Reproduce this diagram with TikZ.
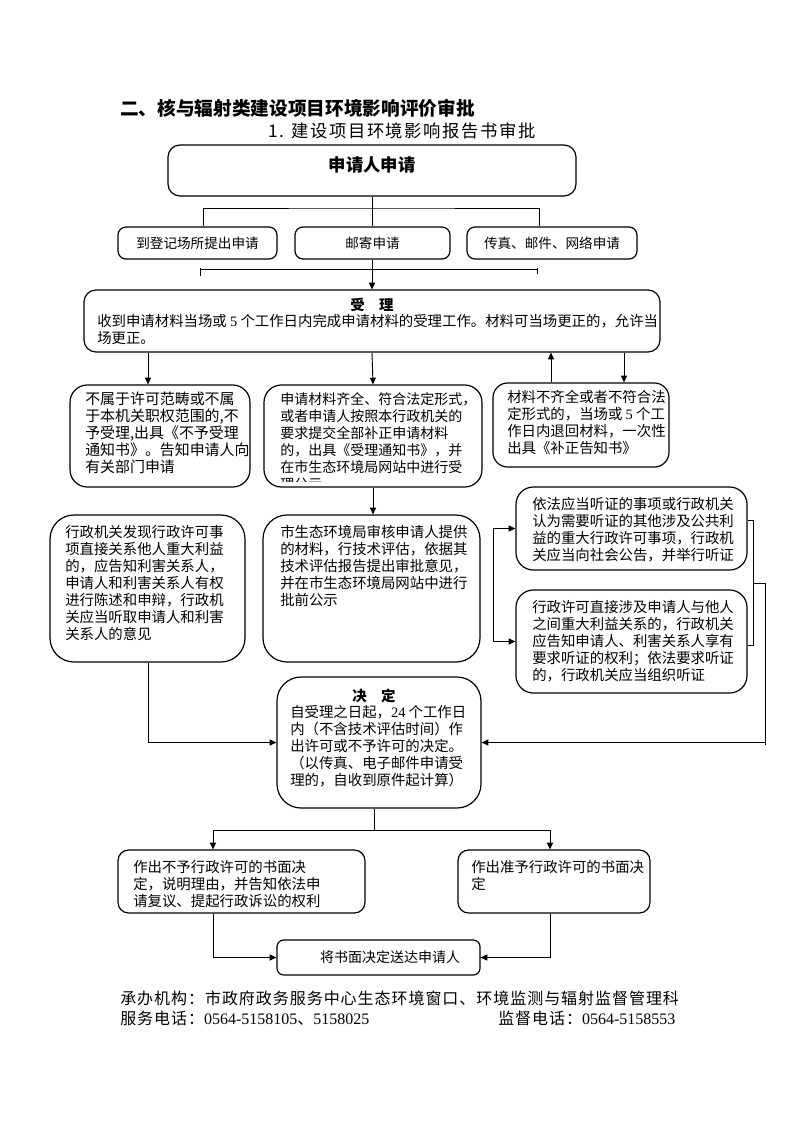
\documentclass[tikz,border=0pt]{standalone}
\usepackage{fontspec}
\setmainfont{Noto Sans CJK SC}
\newfontfamily\digfont{Liberation Serif}
\usetikzlibrary{arrows.meta,fit}
\begin{document}
\begin{tikzpicture}[x=0.75pt,y=-0.75pt,
  box/.style={draw, line width=0.9pt, inner sep=0pt, rounded corners=#1},
  box/.default=8pt,
  txt/.style={anchor=north west, inner sep=0pt, align=left, font=\fontsize{10.8pt}{12.75pt}\selectfont},
  ctxt/.style={inner sep=0pt, font=\fontsize{10.2pt}{12.75pt}\selectfont},
  hd/.style={inner sep=0pt, font=\fontsize{10.8pt}{12.75pt}\selectfont\bfseries},
  foot/.style={anchor=west, inner sep=0pt, font=\fontsize{12pt}{14pt}\selectfont\addfontfeature{LetterSpace=6}},
  ln/.style={line width=0.7pt},
  arr/.style={ln, -{Triangle[length=5pt,width=4.5pt]}},
]
\useasboundingbox (0,0) rectangle (793,1122);
% titles
\node[anchor=west, inner sep=0pt, font=\fontsize{14pt}{16pt}\selectfont\bfseries] (title) at (120,108) {二、核与辐射类建设项目环境影响评价审批};
\node[anchor=west, inner sep=0pt, font=\fontsize{13pt}{16pt}\selectfont\addfontfeature{LetterSpace=9}] (sub) at (268,131) {1. 建设项目环境影响报告书审批};
% coordinates
\coordinate (j1) at (372,208);
\coordinate (cx203) at (203,0);
\coordinate (cx539) at (539,0);
\coordinate (tl) at (200,269);
\coordinate (tr) at (537,269);
\coordinate (cx148) at (148,0);
\coordinate (cx551) at (551,0);
\coordinate (cx624) at (624,0);
\coordinate (cx493) at (493,0);
\coordinate (cx753) at (753,0);
\coordinate (cx765) at (765,0);
\coordinate (cy520) at (0,520);
\coordinate (cy645) at (0,645);
\coordinate (cy583) at (0,583);
\coordinate (j2) at (374,830);
\coordinate (cx213) at (213,0);
\coordinate (cx550) at (550,0);
% boxes
\node[box=9pt, fit={(168,145)(576,196)}] (apply) {};
\node[inner sep=0pt, font=\fontsize{13pt}{15pt}\selectfont\bfseries] at (372,165) {申请人申请};
\node[box=6pt, fit={(118,227)(277,259)}] (m1) {};
\node[ctxt] at (m1.center) {到登记场所提出申请};
\node[box=6pt, fit={(295,227)(450,259)}] (m2) {};
\node[ctxt] at (m2.center) {邮寄申请};
\node[box=6pt, fit={(467,227)(637,259)}] (m3) {};
\node[ctxt] at (m3.center) {传真、邮件、网络申请};
\node[box=9pt, fit={(84,290)(660,352)}] (shouli) {};
\node[hd] at (372,305) {受\quad 理};
\node[txt] at (97,314) {收到申请材料当场或 {\digfont 5} 个工作日内完成申请材料的受理工作。材料可当场更正的，允许当\\场更正。};
\node[box=13pt, fit={(70,385)(250,487)}] (bx1) {};
\node[txt, font=\fontsize{11.2pt}{12.75pt}\selectfont] at (85,392) {不属于许可范畴或不属\\于本机关职权范围的,不\\予受理,出具《不予受理\\通知书》。告知申请人向\\有关部门申请};
\node[box=13pt, fit={(264,385)(482,487)}] (bx2) {};
\begin{scope}
\clip (264,386) rectangle (482,481);
\node[txt, font=\fontsize{10.5pt}{12.75pt}\selectfont] at (280,392) {申请材料齐全、符合法定形式，\\或者申请人按照本行政机关的\\要求提交全部补正申请材料\\的，出具《受理通知书》，并\\在市生态环境局网站中进行受\\理公示};
\end{scope}
\node[box=11pt, fit={(493,383)(669,467)}] (bx3) {};
\node[txt] at (507,390) {材料不齐全或者不符合法\\定形式的，当场或 {\digfont 5} 个工\\作日内退回材料，一次性\\出具《补正告知书》};
\node[box=18pt, fit={(50,515)(245,662)}] (bx4) {};
\node[txt] at (65,525) {行政机关发现行政许可事\\项直接关系他人重大利益\\的，应告知利害关系人，\\申请人和利害关系人有权\\进行陈述和申辩，行政机\\关应当听取申请人和利害\\关系人的意见};
\node[box=18pt, fit={(263,515)(480,662)}] (bx5) {};
\node[txt] at (280,525) {市生态环境局审核申请人提供\\的材料，行技术评估，依据其\\技术评估报告提出审批意见，\\并在市生态环境局网站中进行\\批前公示};
\node[box=13pt, fit={(516,487)(747,570)}] (bx6) {};
\node[txt] at (532,497) {依法应当听证的事项或行政机关\\认为需要听证的其他涉及公共利\\益的重大行政许可事项，行政机\\关应当向社会公告，并举行听证};
\node[box=13pt, fit={(516,590)(747,693)}] (bx7) {};
\node[txt] at (532,600) {行政许可直接涉及申请人与他人\\之间重大利益关系的，行政机关\\应告知申请人、利害关系人享有\\要求听证的权利；依法要求听证\\的，行政机关应当组织听证};
\node[box=18pt, fit={(277,677)(481,808)}] (jd) {};
\node[hd] at (374,696) {决\quad 定};
\node[txt] at (290,705) {自受理之日起，{\digfont 24} 个工作日\\内（不含技术评估时间）作\\出许可或不予许可的决定。\\（以传真、电子邮件申请受\\理的，自收到原件起计算）};
\node[box=8pt, fit={(118,850)(365,913)}] (bn) {};
\node[txt] at (133,860) {作出不予行政许可的书面决\\定，说明理由，并告知依法申\\请复议、提起行政诉讼的权利};
\node[box=8pt, fit={(458,850)(650,913)}] (by) {};
\node[txt] at (471,860) {作出准予行政许可的书面决\\定};
\node[box=5pt, fit={(277,940)(480,975)}] (sd) {};
\node[ctxt, font=\fontsize{10.5pt}{12.75pt}\selectfont] at (390,957) {将书面决定送达申请人};
% footer
\node[foot] (f1) at (120,998) {承办机构：市政府政务服务中心生态环境窗口、环境监测与辐射监督管理科};
\node[foot] (f2) at (120,1018) {服务电话：{\digfont 0564-5158105}、{\digfont 5158025}};
\node[foot] (f3) at (498,1018) {监督电话：{\digfont 0564-5158553}};
% connectors
\draw[ln] (apply.south) -- (j1);
\draw[ln] (m1.north -| cx203) |- (j1) -| (m3.north -| cx539);
\draw[ln] (j1) -- (m2.north -| j1);
\draw[ln] (tl) -- (tr);
\draw[ln] ([yshift=-5pt]tl) -- ([yshift=0.5pt]tl);
\draw[ln] ([yshift=-4pt]tr) -- ([yshift=0.5pt]tr);
\draw[arr] (m2.south -| j1) -- (shouli.north -| j1);
\draw[arr] (shouli.south -| cx148) -- (bx1.north -| cx148);
\draw[arr] (shouli.south) -- (bx2.north);
\draw[arr] (bx3.north -| cx551) -- (shouli.south -| cx551);
\draw[arr] (shouli.south -| cx624) -- (bx3.north -| cx624);
\draw[arr] (bx2.south) -- (bx2.south |- bx5.north);
\draw[arr] (bx4.south -| cx148) |- (jd.west);
\draw[arr] (bx6.west -| cx493) -- (bx6.west);
\draw[arr] (bx6.west -| cx493) |- (bx7.west);
\draw[ln] (bx6.east |- cy520) -| (cx753 |- cy645) -- (bx7.east |- cy645);
\draw[ln] (cx753 |- cy583) -- (cx765 |- cy583) -- ([yshift=-2pt]cx765 |- jd.east);
\draw[arr] (cx765 |- jd.east) -- (jd.east);
\draw[ln] (jd.south -| j2) -- (j2);
\draw[arr] (j2) -| (bn.north -| cx213);
\draw[arr] (j2) -| (by.north -| cx550);
\draw[arr] (bn.south -| cx213) |- (sd.west);
\draw[arr] (by.south -| cx550) |- (sd.east);
\end{tikzpicture}
\end{document}
